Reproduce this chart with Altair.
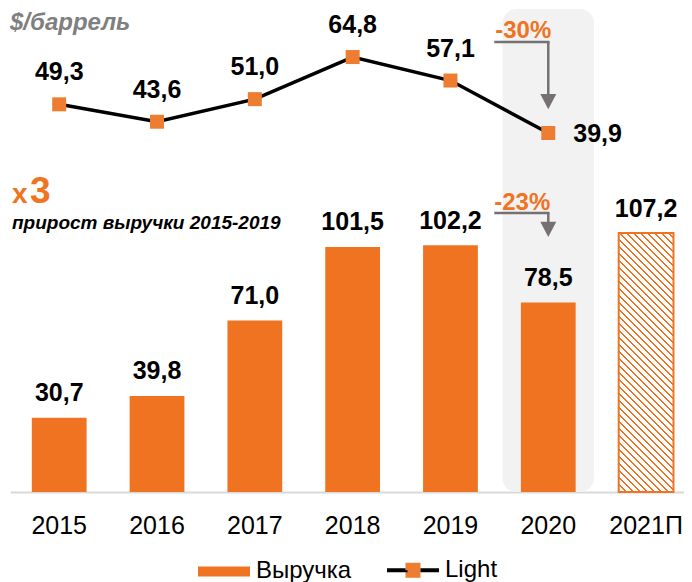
import altair as alt
import pandas as pd

# ---------------- data ----------------
years = ["2015", "2016", "2017", "2018", "2019", "2020", "2021П"]
revenue = [30.7, 39.8, 71.0, 101.5, 102.2, 78.5, 107.2]
light_years = ["2015", "2016", "2017", "2018", "2019", "2020"]
light = [49.3, 43.6, 51.0, 64.8, 57.1, 39.9]
forecast_year = "2021П"
highlight_year = "2020"
series_names = ["Выручка", "Light"]
note_unit = "$/баррель"
note_growth_x = "x"
note_growth_3 = "3"
note_growth_text = "прирост выручки 2015-2019"
note_light_change = "-30%"
note_rev_change = "-23%"


def fmt(v):
    return f"{v:.1f}".replace(".", ",")


bars_df = pd.DataFrame({
    "year": years,
    "value": revenue,
    "label": [fmt(v) for v in revenue],
})
line_df = pd.DataFrame({
    "year": light_years,
    "value": light,
    "label": [fmt(v) for v in light],
})
legend_df = pd.DataFrame({"series": series_names})

# ---------------- styles ----------------
FONT = "Liberation Sans, Arial, Helvetica, sans-serif"
ORANGE = "#F07322"
MARK_ORANGE = "#ED7D31"
GREY = "#767171"

W, H = 676, 574
X_RANGE = [2.3, 687.0]
STEP = (X_RANGE[1] - X_RANGE[0]) / len(years)
BASE = 484
BAR_PX = 2.415
BAR_BAND = 0.56

BAR_SCALE = alt.Scale(domain=[0, 100], range=[BASE, BASE - 100 * BAR_PX], nice=False)
LINE_SCALE = alt.Scale(domain=[30, 70], range=[155.2, 33.2], nice=False, zero=False)

xscale = alt.Scale(domain=years, range=X_RANGE, paddingInner=0, paddingOuter=0)
xaxis = alt.Axis(title=None, labelAngle=0, labelFont=FONT, labelFontSize=25,
                 labelColor="#000000", ticks=False, tickSize=0, labelPadding=21,
                 domainColor="#D9D9D9", domainWidth=2, offset=-(H - BASE), grid=False)
X = alt.X("year:N", scale=xscale, axis=xaxis, title=None)

# hatch pattern for forecast bar built as a striped linear gradient
bw = BAR_BAND * STEP
bh = revenue[years.index(forecast_year)] * BAR_PX
span = bw + bh
kk = span / (bw ** 2 + bh ** 2)
P, SW = 7.0, 1.8
stops = []
i = 0
while i * P < span:
    a = i * P / span
    b = min((i * P + SW) / span, 1.0)
    c = min((i + 1) * P / span, 1.0)
    stops += [
        {"offset": round(a, 5), "color": ORANGE},
        {"offset": round(b, 5), "color": ORANGE},
        {"offset": round(b, 5), "color": "#FFFFFF"},
        {"offset": round(c, 5), "color": "#FFFFFF"},
    ]
    i += 1
HATCH = {"gradient": "linear", "x1": 0, "y1": 1,
         "x2": round(bw * kk, 5), "y2": round(1 - bh * kk, 5), "stops": stops}

# legend symbols (custom paths, r = 13 px per unit)
BAR_PATH = "M-2,-0.385L2,-0.385L2,0.385L-2,0.385Z"
LIGHT_PATH = ("M-2,0L-0.577,0L-0.577,-0.577L0.577,-0.577L0.577,0.577"
              "L-0.577,0.577L-0.577,0L0.577,0L2,0")
DASH = [18.5, 75, 18.5, 300]


def make_legend():
    return alt.Legend(
        title=None, orient="none", legendX=201, legendY=547, direction="horizontal",
        labelFont=FONT, labelFontSize=24, labelColor="#000000", labelOffset=17,
        columnPadding=27, padding=0, symbolSize=676, symbolStrokeWidth=4,
        symbolDash=DASH, symbolOpacity=1,
    )


# ---------------- layers ----------------
highlight = alt.Chart(pd.DataFrame({"year": [highlight_year]})).mark_bar(
    color="#F2F2F2", cornerRadius=14, width=alt.RelativeBandSize(0.935)
).encode(
    x=X,
    y=alt.Y(datum=200, scale=BAR_SCALE, axis=None),
    y2=alt.Y2(datum=0),
)

solid = alt.Chart(bars_df).transform_filter(
    alt.datum.year != forecast_year
).mark_bar(width=alt.RelativeBandSize(BAR_BAND), color=ORANGE).encode(
    x=X,
    y=alt.Y("value:Q", scale=BAR_SCALE, axis=None),
)

hatched = alt.Chart(bars_df).transform_filter(
    alt.datum.year == forecast_year
).mark_bar(width=alt.RelativeBandSize(BAR_BAND), fill=HATCH, stroke=ORANGE,
           strokeWidth=2).encode(
    x=X,
    y=alt.Y("value:Q", scale=BAR_SCALE, axis=None),
)

bar_labels = alt.Chart(bars_df).mark_text(
    font=FONT, fontSize=25, fontWeight="bold", color="#000000",
    baseline="alphabetic", dy=-16.5
).encode(
    x=X,
    y=alt.Y("value:Q", scale=BAR_SCALE, axis=None),
    text="label:N",
)

line = alt.Chart(line_df).mark_line(color="#000000", strokeWidth=3.5).encode(
    x=X, y=alt.Y("value:Q", scale=LINE_SCALE, axis=None)
)
points = alt.Chart(line_df).mark_square(size=196, color=MARK_ORANGE, opacity=1).encode(
    x=X, y=alt.Y("value:Q", scale=LINE_SCALE, axis=None)
)
line_labels = alt.Chart(line_df).transform_filter(
    alt.datum.year != highlight_year
).mark_text(font=FONT, fontSize=25, fontWeight="bold", color="#000000",
            baseline="alphabetic", dy=-24).encode(
    x=X, y=alt.Y("value:Q", scale=LINE_SCALE, axis=None), text="label:N"
)
line_label_last = alt.Chart(line_df).transform_filter(
    alt.datum.year == highlight_year
).mark_text(font=FONT, fontSize=25, fontWeight="bold", color="#000000",
            align="left", baseline="middle", dx=25, dy=1).encode(
    x=X, y=alt.Y("value:Q", scale=LINE_SCALE, axis=None), text="label:N"
)

# legend-only layer (its marks sit outside the view)
legend_layer = alt.Chart(legend_df).mark_point(
    opacity=1, size=676, strokeWidth=4, strokeDash=DASH
).encode(
    x=alt.value(-500), y=alt.value(-500),
    fill=alt.Fill("series:N", scale=alt.Scale(domain=series_names, range=[ORANGE, MARK_ORANGE]),
                  legend=make_legend()),
    stroke=alt.Stroke("series:N", scale=alt.Scale(domain=series_names, range=["transparent", "#000000"]),
                      legend=make_legend()),
    shape=alt.Shape("series:N", scale=alt.Scale(domain=series_names, range=[BAR_PATH, LIGHT_PATH]),
                    legend=make_legend()),
)


def note(text, x, y, size, color, style="normal", align="left"):
    return alt.Chart(pd.DataFrame({"t": [text]})).mark_text(
        font=FONT, fontSize=size, fontWeight="bold", fontStyle=style, color=color,
        align=align, baseline="alphabetic"
    ).encode(x=alt.value(x), y=alt.value(y), text="t:N")


def seg(x, y, x2, y2):
    return alt.Chart(pd.DataFrame({"k": [0]})).mark_rule(
        color=GREY, strokeWidth=2.5
    ).encode(x=alt.value(x), y=alt.value(y), x2=alt.value(x2), y2=alt.value(y2))


ARROW = "M-1,-0.9L1,-0.9L0,1Z"


def head(x, y):
    return alt.Chart(pd.DataFrame({"k": [0]})).mark_point(
        shape=ARROW, size=256, filled=True, color=GREY, opacity=1, strokeWidth=0
    ).encode(x=alt.value(x), y=alt.value(y))


CX = X_RANGE[0] + 5.5 * STEP  # centre of the highlighted year

notes = [
    note(note_unit, 2, 22, 24, "#7F7F7F", "italic"),
    note(note_growth_x, 4, 195, 28, ORANGE),
    note(note_growth_3, 22, 195, 37, ORANGE),
    note(note_growth_text, 4, 221, 19, "#000000", "italic"),
    note(note_light_change, CX - 25, 30, 24, ORANGE, align="center"),
    note(note_rev_change, CX - 26, 202, 24, ORANGE, align="center"),
]
arrows = [
    seg(CX - 54, 34, CX + 1.25, 34),
    seg(CX, 34, CX, 87),
    head(CX, 93.2),
    seg(CX - 54, 205, CX + 1.25, 205),
    seg(CX, 205, CX, 214),
    head(CX, 221),
]

chart = alt.layer(
    highlight, solid, hatched, bar_labels, line, points, line_labels, line_label_last,
    *notes, *arrows, legend_layer
).resolve_scale(y="independent").properties(
    width=W, height=H, padding=0, autosize=alt.AutoSizeParams(type="none")
).configure_view(stroke=None)

chart.save("out.html", embed_options={"renderer": "svg", "actions": False})
